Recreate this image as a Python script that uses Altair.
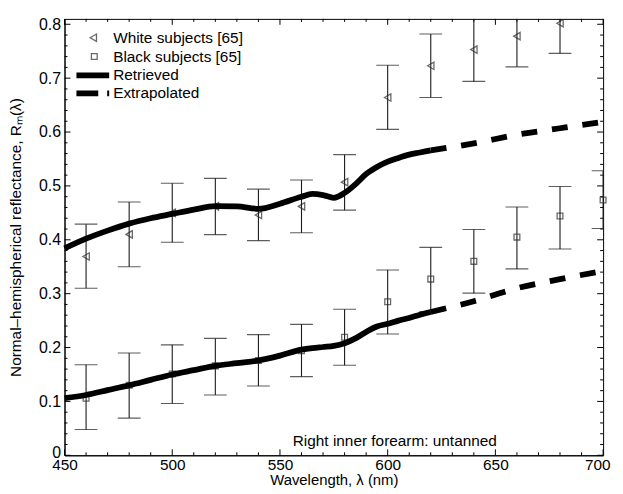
import altair as alt
import pandas as pd

# ---------------- data ----------------
white_wl = [460, 480, 500, 520, 540, 560, 580, 600, 620, 640, 660, 680]
white_mean = [0.369, 0.410, 0.450, 0.462, 0.446, 0.462, 0.507, 0.664, 0.723, 0.753, 0.778, 0.802]
white_lo = [0.310, 0.350, 0.3955, 0.4095, 0.3985, 0.413, 0.455, 0.605, 0.664, 0.694, 0.721, 0.746]
white_hi = [0.429, 0.470, 0.505, 0.514, 0.494, 0.511, 0.558, 0.724, 0.782, 0.812, 0.837, 0.858]

black_wl = [460, 480, 500, 520, 540, 560, 580, 600, 620, 640, 660, 680, 700]
black_mean = [0.106, 0.130, 0.151, 0.166, 0.176, 0.194, 0.219, 0.285, 0.327, 0.360, 0.405, 0.444, 0.474]
black_lo = [0.048, 0.069, 0.096, 0.112, 0.1285, 0.146, 0.167, 0.225, 0.267, 0.301, 0.346, 0.383, 0.421]
black_hi = [0.168, 0.190, 0.205, 0.217, 0.224, 0.243, 0.271, 0.344, 0.386, 0.419, 0.461, 0.499, 0.528]

ret_wl = [450, 460, 470, 480, 490, 500, 510, 520, 530, 540, 550, 560, 565, 570, 575,
          580, 585, 590, 595, 600, 605, 610, 615, 620]
ret_white = [0.384, 0.402, 0.417, 0.430, 0.440, 0.448, 0.456, 0.4625, 0.462, 0.4575, 0.467,
             0.480, 0.485, 0.483, 0.478, 0.487, 0.503, 0.522, 0.535, 0.545, 0.552, 0.558,
             0.562, 0.566]
ret_black = [0.106, 0.112, 0.121, 0.130, 0.140, 0.150, 0.158, 0.166, 0.171, 0.176, 0.185,
             0.196, 0.199, 0.201, 0.203, 0.208, 0.217, 0.229, 0.239, 0.244, 0.250, 0.255,
             0.261, 0.266]

ext_wl = [620, 640, 660, 680, 700]
ext_white = [0.566, 0.579, 0.595, 0.607, 0.619]
ext_black = [0.266, 0.286, 0.310, 0.327, 0.342]

x_major = [450, 500, 550, 600, 650, 700]
x_minor = [460, 470, 480, 490, 510, 520, 530, 540, 560, 570, 580, 590,
           610, 620, 630, 640, 660, 670, 680, 690]
y_major = [0, 0.1, 0.2, 0.3, 0.4, 0.5, 0.6, 0.7, 0.8]
y_minor = [0.02, 0.04, 0.06, 0.08, 0.12, 0.14, 0.16, 0.18, 0.22, 0.24, 0.26, 0.28,
           0.32, 0.34, 0.36, 0.38, 0.42, 0.44, 0.46, 0.48, 0.52, 0.54, 0.56, 0.58,
           0.62, 0.64, 0.66, 0.68, 0.72, 0.74, 0.76, 0.78]

legend_labels = ["White subjects [65]", "Black subjects [65]", "Retrieved", "Extrapolated"]
note = "Right inner forearm: untanned"
x_title = "Wavelength, λ (nm)"
y_title = "Normal–hemispherical reflectance, Rₘ(λ)"

# ---------------- tables ----------------
W, H = 543, 440
FONT = "Liberation Sans"

white_df = pd.DataFrame({"wl": white_wl, "m": white_mean, "lo": white_lo, "hi": white_hi})
black_df = pd.DataFrame({"wl": black_wl, "m": black_mean, "lo": black_lo, "hi": black_hi})
ret_df = pd.DataFrame({
    "wl": ret_wl + ret_wl,
    "r": ret_white + ret_black,
    "g": ["white"] * len(ret_wl) + ["black"] * len(ret_wl),
})
ext_df = pd.DataFrame({
    "wl": ext_wl + ext_wl,
    "r": ext_white + ext_black,
    "g": ["white"] * len(ext_wl) + ["black"] * len(ext_wl),
})

xs = alt.Scale(domain=[450, 700], nice=False, zero=False)
ys = alt.Scale(domain=[0, 0.81], nice=False, zero=False)

last_x = "datum.value == 700"
X = alt.X("wl:Q", scale=xs, axis=alt.Axis(
    values=x_major, format="d", ticks=False, tickSize=0, grid=False, labelPadding=2,
    labelAlign=alt.condition(last_x, alt.value("right"), alt.value("center")),
    labelOffset=alt.condition(last_x, alt.value(7), alt.value(0)),
    title=x_title, titlePadding=-0.5, labelFontSize=15.5, titleFontSize=15))
Y = alt.Y("m:Q", scale=ys, axis=alt.Axis(
    values=y_major, format=".1~f", ticks=False, tickSize=0, grid=False, labelPadding=4,
    labelOffset=alt.condition("datum.value == 0", alt.value(-3), alt.value(0)),
    title=y_title, titlePadding=15, labelFontSize=16, titleFontSize=15.5))

ERR = "#1a1a1a"
MK = "#2a2a2a"


def errbars(df):
    bars = alt.Chart(df).mark_rule(color=ERR, strokeWidth=1.1, clip=True).encode(
        x=alt.X("wl:Q", scale=xs), y=alt.Y("lo:Q", scale=ys), y2="hi:Q")
    top = alt.Chart(df).mark_tick(color=ERR, orient="horizontal", size=23, thickness=1.1,
                                  clip=True).encode(x=alt.X("wl:Q", scale=xs),
                                                    y=alt.Y("hi:Q", scale=ys))
    bot = alt.Chart(df).mark_tick(color=ERR, orient="horizontal", size=23, thickness=1.1,
                                  clip=True).encode(x=alt.X("wl:Q", scale=xs),
                                                    y=alt.Y("lo:Q", scale=ys))
    return bars + top + bot


base_axes = alt.Chart(white_df).mark_point(opacity=0).encode(x=X, y=Y)

white_pts = alt.Chart(white_df).mark_point(
    shape="triangle-left", size=55, filled=False, color=MK, strokeWidth=1.3, clip=True
).encode(x=alt.X("wl:Q", scale=xs), y=alt.Y("m:Q", scale=ys))
black_pts = alt.Chart(black_df).mark_point(
    shape="square", size=34, filled=False, color=MK, strokeWidth=1.3
).encode(x=alt.X("wl:Q", scale=xs), y=alt.Y("m:Q", scale=ys))

ret_lines = alt.Chart(ret_df).mark_line(
    color="black", strokeWidth=5.8, interpolate="monotone", strokeCap="butt"
).encode(x=alt.X("wl:Q", scale=xs), y=alt.Y("r:Q", scale=ys), detail="g:N")
ext_lines = alt.Chart(ext_df).mark_line(
    color="black", strokeWidth=5.8, strokeDash=[16, 15], interpolate="monotone",
    strokeCap="butt"
).encode(x=alt.X("wl:Q", scale=xs), y=alt.Y("r:Q", scale=ys), detail="g:N")

# inward ticks (box style)
xM = pd.DataFrame({"t": x_major})
xm = pd.DataFrame({"t": x_minor})
yM = pd.DataFrame({"t": y_major})
ym = pd.DataFrame({"t": y_minor})


def xticks(df, ln):
    b = alt.Chart(df).mark_rule(color="black", strokeWidth=1).encode(
        x=alt.X("t:Q", scale=xs), y=alt.value(H), y2=alt.value(H - ln))
    t = alt.Chart(df).mark_rule(color="black", strokeWidth=1).encode(
        x=alt.X("t:Q", scale=xs), y=alt.value(0), y2=alt.value(ln))
    return b + t


def yticks(df, ln):
    l = alt.Chart(df).mark_rule(color="black", strokeWidth=1).encode(
        y=alt.Y("t:Q", scale=ys), x=alt.value(0), x2=alt.value(ln))
    r = alt.Chart(df).mark_rule(color="black", strokeWidth=1).encode(
        y=alt.Y("t:Q", scale=ys), x=alt.value(W), x2=alt.value(W - ln))
    return l + r


ticks = xticks(xM, 6) + xticks(xm, 3) + yticks(yM, 6) + yticks(ym, 3)

# legend (drawn inside the plot, top-left)
one = pd.DataFrame({"k": [0]})
leg_tri = alt.Chart(one).mark_point(shape="triangle-left", size=55, filled=False,
                                    color=MK, strokeWidth=1.3).encode(
    x=alt.value(29), y=alt.value(19))
leg_sq = alt.Chart(one).mark_point(shape="square", size=34, filled=False,
                                   color=MK, strokeWidth=1.3).encode(
    x=alt.value(30), y=alt.value(38))
leg_solid = alt.Chart(one).mark_rule(color="black", strokeWidth=5.8).encode(
    x=alt.value(12), x2=alt.value(45), y=alt.value(57))
leg_dash = alt.Chart(one).mark_rule(color="black", strokeWidth=5.8, strokeDash=[22, 9],
                                    strokeCap="butt").encode(
    x=alt.value(12), x2=alt.value(45), y=alt.value(75))
leg_txt = None
for lab, yy in zip(legend_labels, [19, 38, 57, 75]):
    t = alt.Chart(pd.DataFrame({"lab": [lab]})).mark_text(
        align="left", baseline="middle", font=FONT, fontSize=15.5, color="black"
    ).encode(x=alt.value(49), y=alt.value(yy), text="lab:N")
    leg_txt = t if leg_txt is None else leg_txt + t

note_txt = alt.Chart(pd.DataFrame({"n": [note]})).mark_text(
    align="center", baseline="middle", font=FONT, fontSize=15.5, color="black"
).encode(x=alt.value(333), y=alt.value(426), text="n:N")

chart = alt.layer(
    base_axes, ticks,
    errbars(white_df), errbars(black_df),
    white_pts, black_pts,
    ret_lines, ext_lines,
    leg_tri, leg_sq, leg_solid, leg_dash, leg_txt, note_txt,
).properties(
    width=W, height=H, padding={"left": 0, "top": 6, "right": 0, "bottom": 0}
).configure_view(
    stroke="black", strokeWidth=1
).configure_axis(
    labelFont=FONT, titleFont=FONT, labelColor="black", titleColor="black",
    domainColor="black", domainWidth=1, titleFontWeight="normal"
)

chart.save("out.html", embed_options={"renderer": "svg", "actions": False})
